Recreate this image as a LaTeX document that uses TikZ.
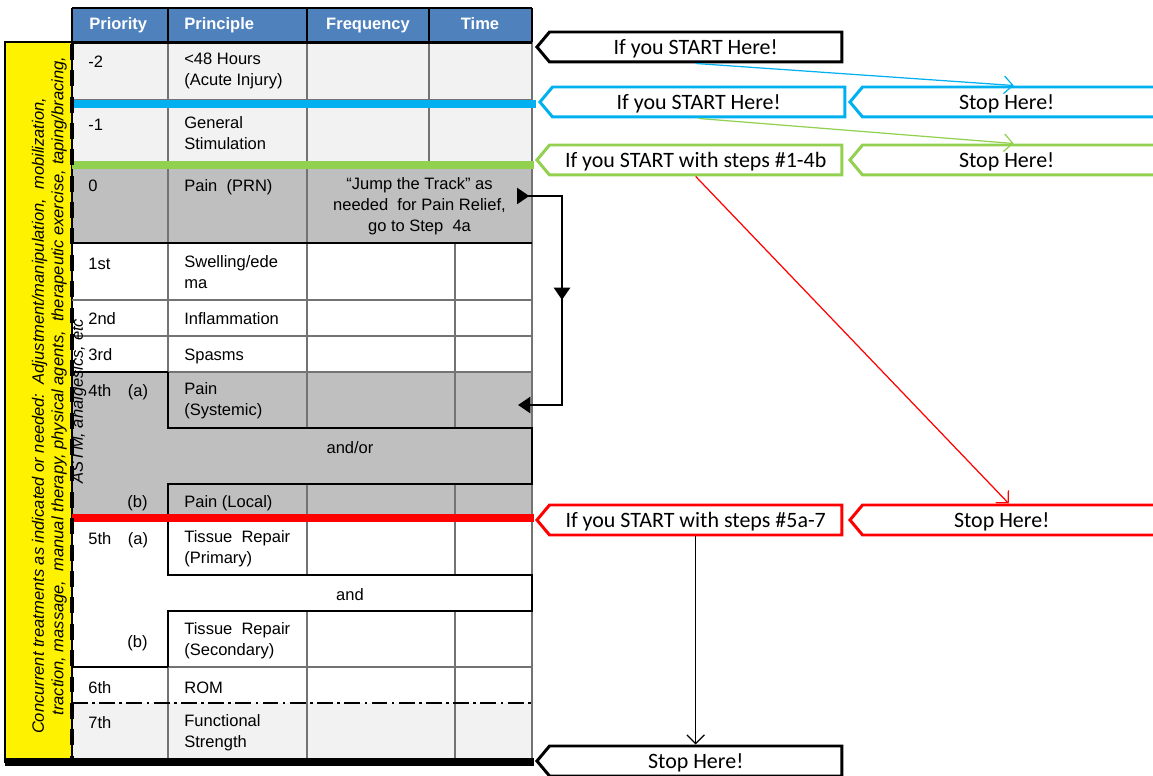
\documentclass[tikz,border=0pt]{standalone}
\usepackage{fontspec}
\setmainfont{Liberation Sans}
\newfontfamily\calloutfont{Carlito}
\usetikzlibrary{shapes.symbols,arrows.meta,decorations.markings}

\begin{document}
\begin{tikzpicture}[x=0.02cm, y=-0.02cm,
    cell/.style={anchor=north west, inner sep=0pt, align=left,
        font=\fontsize{9.4}{11.9}\selectfont, execute at begin node=\strut},
    midcell/.style={cell, anchor=north, align=center},
    headcell/.style={inner sep=0pt, anchor=base, text=white, font=\fontsize{9.4}{11.9}\selectfont\bfseries},
    signbox/.style={shape=signal, signal to=west, signal pointer angle=100,
        draw=#1, line width=1.7pt, fill=white, anchor=west, inner sep=0pt,
        minimum height=0.6cm, minimum width=6.1cm, text height=9pt, text depth=1pt,
        font=\calloutfont\fontsize{12.5}{14}\selectfont},
    stopbox/.style={signbox=#1, execute at end node={\hspace*{8pt}}},
    steparrow/.style={draw=#1, line width=0.7pt, -{Straight Barb[length=5pt,width=10pt]}},
    gridline/.style={draw=black!55, line width=0.6pt},
    boxline/.style={draw=black, line width=1pt},
    jumpline/.style={draw=black, line width=1.7pt,
        {Triangle[reversed,length=7pt,width=9pt]}-{Triangle[length=7pt,width=9pt]},
        postaction={decorate}, decoration={markings,
            mark=at position 0.5 with {\arrow{Triangle[length=7pt,width=9pt]}}}}
]
    \definecolor{headblue}{RGB}{79,129,189}
    \definecolor{rowlight}{RGB}{242,242,242}
    \definecolor{rowgray}{RGB}{191,191,191}
    \definecolor{stepcyan}{RGB}{0,176,240}
    \definecolor{stepgreen}{RGB}{146,208,80}
    \definecolor{stepred}{RGB}{255,0,0}
    \def\xa{72}   % table left
    \def\xb{168}  % principle column
    \def\xc{307}  % frequency column
    \def\xd{429}  % time column, upper rows
    \def\xe{455}  % time column, lower rows
    \def\xf{532}  % table right

    \useasboundingbox (0,0) rectangle (1153,776);

    % shading of the rows
    \fill[headblue] (\xa,8) rectangle (\xf,42);
    \fill[rowlight] (\xa,42) rectangle (\xf,169);
    \fill[rowgray] (\xa,169) rectangle (\xf,243);
    \fill[rowgray] (\xa,372) rectangle (\xf,514);
    \fill[rowlight] (\xa,703) rectangle (\xf,760);
    \fill[yellow, draw=black, line width=0.6pt] (5,42) rectangle (\xa,762);

    % column lines
    \draw[black, line width=0.6pt] (\xa,8) -- (\xa,42) (\xb,8) -- (\xb,42) (\xc,8) -- (\xc,42) (\xd,8) -- (\xd,42) (\xf,8) -- (\xf,42);
    \draw[gridline] (\xb,42) -- (\xb,372) (\xc,42) -- (\xc,243) (\xd,42) -- (\xd,169);
    \draw[gridline] (\xc,243) -- (\xc,428) (\xe,243) -- (\xe,428);
    \draw[gridline] (\xc,484) -- (\xc,575) (\xe,484) -- (\xe,575);
    \draw[gridline] (\xc,611) -- (\xc,760) (\xe,611) -- (\xe,760) (\xb,667) -- (\xb,760);
    \draw[gridline] (\xf,42) -- (\xf,760);

    % row lines
    \draw[gridline] (\xa,100) -- (\xf,100) (\xa,300) -- (\xf,300) (\xa,336) -- (\xf,336)
        (\xb,372) -- (\xf,372) (\xb,667) -- (\xf,667);
    \draw[boxline] (\xa,372) -- (\xb,372) (\xa,667) -- (\xb,667);
    \draw[boxline] (\xb,372) -- (\xb,428) -- (\xf,428) -- (\xf,484) -- (\xb,484) -- (\xb,514);
    \draw[boxline] (\xb,522) -- (\xb,575) -- (\xf,575) -- (\xf,611) -- (\xb,611) -- (\xb,667);
    \draw[black, line width=1.2pt] (\xa,243) -- (\xf,243);
    \draw[black, line width=1pt, dash pattern=on 9pt off 2.5pt on 1.5pt off 2.5pt] (\xa,703) -- (\xf,703);

    % side note in the yellow bar
    \node[rotate=90, align=center, inner sep=0pt, font=\fontsize{9.4}{11.1}\selectfont\itshape] (side) at (59,386)
        {Concurrent treatments as indicated or needed:\ \ Adjustment/manipulation,\ \ mobilization,\hspace*{34pt}\\
         traction, massage,\ \ manual therapy, physical agents,\ \ therapeutic exercise, taping/bracing,\\
         ASTM, analgesics, etc\hspace*{17pt}};

    % heavy rules and step bars
    \draw[black, line width=1.2pt] (\xa,8) -- (\xf,8);
    \draw[black, line width=1.7pt] (\xa,42.5) -- (\xf,42.5);
    \draw[stepcyan, line width=4.5pt] (\xa,104) -- (\xf+4,104);
    \draw[stepgreen, line width=4.5pt] (\xa,165) -- (\xf+2,165);
    \draw[stepred, line width=4.5pt] (\xa,518) -- (\xf+2,518);
    \draw[black, line width=4pt] (5,762) -- (\xf+2,762);
    \draw[black, line width=2.3pt, dash pattern=on 9pt off 6pt] (\xa,44) -- (\xa,760);

    % header
    \node[headcell, anchor=base west] (hprio) at (89,30) {Priority};
    \node[headcell, anchor=base west] (hprin) at (184,30) {Principle};
    \node[headcell] (hfreq) at (368,30) {Frequency};
    \node[headcell] (htime) at (480,30) {Time};

    % cells
    \node[cell] (pm2) at (88,53) {-2};
    \node[cell] (nm2) at (184,53) {<48 Hours\\(Acute Injury)};
    \node[cell] (pm1) at (88,116) {-1};
    \node[cell] (nm1) at (184,116) {General\\Stimulation};
    \node[cell] (p0) at (88,177) {0};
    \node[cell] (n0) at (184,177) {Pain\ \ (PRN)};
    \node[midcell] (jump) at (419.5,177) {“Jump the Track” as\\needed\ \ for Pain Relief,\\go to Step\ \ 4a};
    \node[cell] (p1) at (88,255) {1st};
    \node[cell] (n1) at (184,255) {Swelling/ede\\ma};
    \node[cell] (p2) at (88,310) {2nd};
    \node[cell] (n2) at (184,310) {Inflammation};
    \node[cell] (p3) at (88,346) {3rd};
    \node[cell] (n3) at (184,346) {Spasms};
    \node[cell] (p4a) at (88,382) {4th\quad(a)};
    \node[cell] (n4a) at (184,382) {Pain\\(Systemic)};
    \node[midcell] (andor) at (350,439) {and/or};
    \node[cell] (p4b) at (127,493) {(b)};
    \node[cell] (n4b) at (184,493) {Pain (Local)};
    \node[cell] (p5a) at (88,530) {5th\quad(a)};
    \node[cell] (n5a) at (184,530) {Tissue\ \ Repair\\(Primary)};
    \node[midcell] (and) at (350,586) {and};
    \node[cell] (p5b) at (127,633) {(b)};
    \node[cell] (n5b) at (184,622) {Tissue\ \ Repair\\(Secondary)};
    \node[cell] (p6) at (88,679) {6th};
    \node[cell] (n6) at (184,679) {ROM};
    \node[cell] (p7) at (88,714) {7th};
    \node[cell] (n7) at (184,714) {Functional\\Strength};

    % start and stop signs
    \node[signbox=black] (startA) at (535,47) {If you START Here!};
    \node[signbox=stepcyan] (startB) at (538,102) {If you START Here!};
    \node[stopbox=stepcyan, minimum width=6.3cm] (stopB) at (848,102) {Stop Here!};
    \node[signbox=stepgreen] (startC) at (535,160) {If you START with steps \#1-4b};
    \node[stopbox=stepgreen, minimum width=6.3cm] (stopC) at (848,160) {Stop Here!};
    \node[signbox=stepred] (startD) at (535,520) {If you START with steps \#5a-7};
    \node[stopbox=stepred] (stopD) at (848,520) {Stop Here!};
    \node[signbox=black] (stopE) at (535,761) {Stop Here!};

    % where to stop
    \draw[steparrow=stepcyan] (startA.south) -- (stopB.north);
    \draw[steparrow=stepgreen] (startB.south) -- (stopC.north);
    \draw[steparrow=stepred] (startC.south) -- (stopD.north);
    \draw[steparrow=black] (startD.south) -- (stopE.north);

    % jump the track
    \coordinate (jumpfrom) at (517,196);
    \coordinate (jumpto) at (518,405);
    \draw[jumpline] (jumpfrom) -- (562,196) -- (562,405) -- (jumpto);
\end{tikzpicture}
\end{document}
